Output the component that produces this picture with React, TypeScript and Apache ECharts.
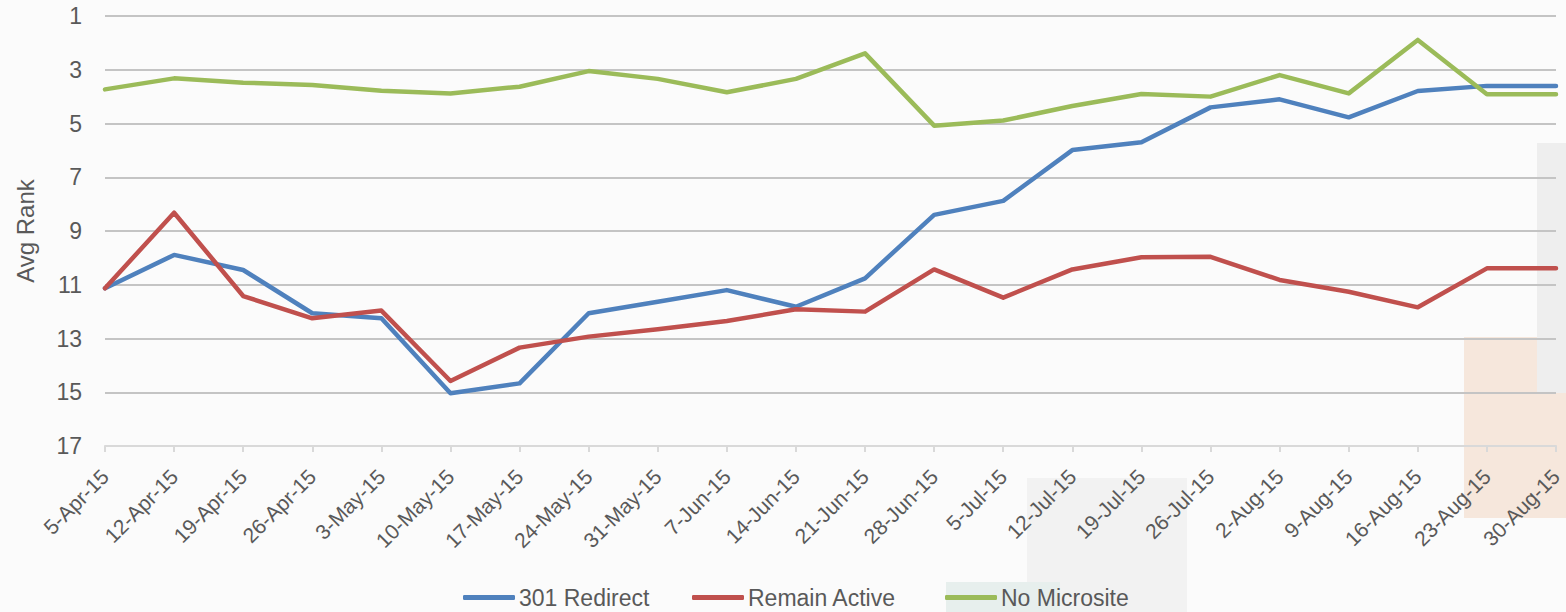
import React, { useEffect, useRef } from "react";
import * as echarts from "echarts";

const categories = [
  "5-Apr-15", "12-Apr-15", "19-Apr-15", "26-Apr-15", "3-May-15", "10-May-15",
  "17-May-15", "24-May-15", "31-May-15", "7-Jun-15", "14-Jun-15", "21-Jun-15",
  "28-Jun-15", "5-Jul-15", "12-Jul-15", "19-Jul-15", "26-Jul-15", "2-Aug-15",
  "9-Aug-15", "16-Aug-15", "23-Aug-15", "30-Aug-15",
];

const redirect301 = [
  11.13, 9.89, 10.45, 12.06, 12.25, 15.04, 14.67, 12.06, 11.63, 11.2, 11.82,
  10.76, 8.4, 7.88, 5.99, 5.7, 4.4, 4.1, 4.77, 3.79, 3.6, 3.6,
];

const remainActive = [
  11.13, 8.32, 11.42, 12.25, 11.96, 14.58, 13.34, 12.93, 12.66, 12.35, 11.91,
  12.0, 10.43, 11.48, 10.43, 9.98, 9.96, 10.82, 11.26, 11.84, 10.39, 10.39,
];

const noMicrosite = [
  3.73, 3.32, 3.48, 3.57, 3.78, 3.88, 3.63, 3.05, 3.34, 3.84, 3.34, 2.39,
  5.08, 4.89, 4.35, 3.9, 4.0, 3.2, 3.88, 1.89, 3.91, 3.91,
];

const seriesNames = ["301 Redirect", "Remain Active", "No Microsite"];
const seriesColors = ["#4F81BD", "#C0504D", "#9BBB59"];

const FONT = "'Liberation Sans', Arial, sans-serif";
const TEXT = "#595959";

export default function App() {
  const ref = useRef<HTMLDivElement>(null);

  useEffect(() => {
    if (!ref.current) return;
    const chart = echarts.init(ref.current, undefined, { renderer: "svg" });
    const values = [redirect301, remainActive, noMicrosite];
    const legendLefts = [463, 692, 945];

    chart.setOption({
      animation: false,
      backgroundColor: "#FBFBFB",
      textStyle: { fontFamily: FONT },
      graphic: [
        { type: "rect", z: -1, shape: { x: 1464, y: 337, width: 102, height: 181 }, style: { fill: "#F6E7DC" } },
        { type: "rect", z: -1, shape: { x: 1537, y: 143, width: 29, height: 250 }, style: { fill: "#EEEEEE" } },
        { type: "rect", z: -1, shape: { x: 1027, y: 478, width: 160, height: 134 }, style: { fill: "#F2F2F2" } },
        { type: "rect", z: -1, shape: { x: 946, y: 582, width: 114, height: 30 }, style: { fill: "#E7EFED" } },
      ],
      legend: seriesNames.map((n, i) => ({
        data: [n],
        left: legendLefts[i],
        top: 586,
        padding: 0,
        icon: "roundRect",
        itemWidth: 52,
        itemHeight: 5,
        itemGap: 4,
        textStyle: { fontSize: 23, color: TEXT, fontFamily: FONT, padding: [0, 0, 0, -1] },
      })),
      grid: { left: 105, right: 10, top: 16, bottom: 166, containLabel: false },
      xAxis: {
        type: "category",
        data: categories,
        boundaryGap: false,
        axisLine: { onZero: false, lineStyle: { color: "#D9D9D9", width: 2 } },
        axisTick: { show: true, length: 6, lineStyle: { color: "#D9D9D9", width: 2 } },
        axisLabel: {
          rotate: 45,
          interval: 0,
          margin: 27,
          padding: [18, 0, 0, 0],
          fontSize: 21,
          color: TEXT,
          fontFamily: FONT,
        },
        splitLine: { show: false },
      },
      yAxis: {
        type: "value",
        inverse: true,
        min: 1,
        max: 17,
        interval: 2,
        name: "Avg Rank",
        nameLocation: "middle",
        nameRotate: 90,
        nameGap: 68,
        nameTextStyle: { fontSize: 24, color: TEXT, fontFamily: FONT },
        axisLine: { show: false },
        axisTick: { show: false },
        axisLabel: { fontSize: 23, color: TEXT, margin: 23, fontFamily: FONT },
        splitLine: { lineStyle: { color: "#C4C4C4", width: 2 } },
      },
      series: seriesNames.map((n, i) => ({
        name: n,
        type: "line",
        data: values[i],
        symbol: "none",
        color: seriesColors[i],
        lineStyle: { width: 4.5, color: seriesColors[i], cap: "round", join: "round" },
      })),
    });

    return () => chart.dispose();
  }, []);

  return (
    <div
      ref={ref}
      style={{ position: "fixed", left: 0, top: 0, width: 1566, height: 612 }}
    />
  );
}
